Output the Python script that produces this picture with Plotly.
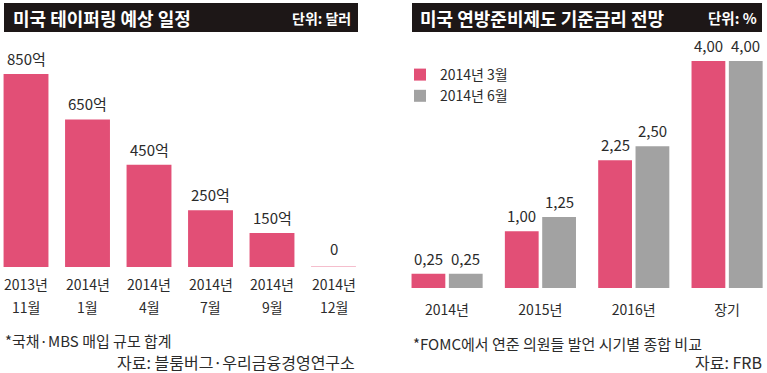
import plotly.graph_objects as go

# ---- data ----
left_years = ["2013년", "2014년", "2014년", "2014년", "2014년", "2014년"]
left_months = ["11월", "1월", "4월", "7월", "9월", "12월"]
taper_values = [850, 650, 450, 250, 150, 0]

right_categories = ["2014년", "2015년", "2016년", "장기"]
series_names = ["2014년 3월", "2014년 6월"]
rate_march = [0.25, 1.00, 2.25, 4.00]
rate_june = [0.25, 1.25, 2.50, 4.00]

W, H = 767, 373
PINK = "#e24f76"
PINK_LIGHT = "#f2a9bc"
GRAY = "#a2a2a2"
TXT = "#2b2b2b"
BAR_BG = "#1d1717"
FONT = "Noto Sans CJK KR"


def px(x):
    return x / W


def py(y):
    return (H - y) / H


fig = go.Figure()

lx = list(range(len(taper_values)))
fig.add_trace(go.Bar(
    x=lx, y=taper_values, width=0.73, marker=dict(color=PINK, line=dict(width=0)),
    xaxis="x", yaxis="y", showlegend=False, hoverinfo="skip",
))

rx = list(range(len(right_categories)))
fig.add_trace(go.Bar(
    x=rx, y=rate_march, width=0.362, offset=-0.38, name=series_names[0],
    marker=dict(color=PINK, line=dict(width=0)), xaxis="x2", yaxis="y2",
    legendgroup="a",
))
fig.add_trace(go.Bar(
    x=rx, y=rate_june, width=0.362, offset=0.02, name=series_names[1],
    marker=dict(color=GRAY, line=dict(width=0)), xaxis="x2", yaxis="y2",
    legendgroup="b",
))

annotations = []
shapes = []

# left value labels
for i, v in enumerate(taper_values):
    label = f"{v}억" if v else "0"
    annotations.append(dict(x=i, y=v, xref="x", yref="y", text=label, showarrow=False,
                            yanchor="bottom", yshift=3 if v else 6,
                            font=dict(family=FONT, size=15, color=TXT)))
    if v == 0:
        shapes.append(dict(type="line", xref="x", yref="y", x0=i - 0.365, x1=i + 0.365,
                           y0=0, y1=0, line=dict(color=PINK_LIGHT, width=1.5)))
# left category labels
for i, (yr, mo) in enumerate(zip(left_years, left_months)):
    annotations.append(dict(x=i, y=py(284), xref="x", yref="paper", text=yr, showarrow=False,
                            yanchor="middle", font=dict(family=FONT, size=14, color=TXT)))
    annotations.append(dict(x=i, y=py(307), xref="x", yref="paper", text=mo, showarrow=False,
                            yanchor="middle", font=dict(family=FONT, size=14, color=TXT)))

# right value labels
for vals, off in ((rate_march, -0.38), (rate_june, 0.02)):
    for i, v in enumerate(vals):
        annotations.append(dict(x=i + off + 0.181, y=v, xref="x2", yref="y2",
                                text=f"{v:.2f}".replace(".", ","), showarrow=False,
                                yanchor="bottom", yshift=3,
                                font=dict(family=FONT, size=15, color=TXT)))

# title bars
shapes.append(dict(type="rect", xref="paper", yref="paper", x0=px(4), x1=px(358),
                   y0=py(32), y1=py(3), fillcolor=BAR_BG, line=dict(width=0), layer="below"))
shapes.append(dict(type="rect", xref="paper", yref="paper", x0=px(412), x1=px(762),
                   y0=py(32), y1=py(3), fillcolor=BAR_BG, line=dict(width=0), layer="below"))

annotations += [
    dict(x=px(11), y=py(17.5), xref="paper", yref="paper", xanchor="left", yanchor="middle",
         text="<b>미국 테이퍼링 예상 일정</b>", showarrow=False,
         font=dict(family=FONT, size=18, color="white")),
    dict(x=px(353), y=py(17.5), xref="paper", yref="paper", xanchor="right", yanchor="middle",
         text="<b>단위: 달러</b>", showarrow=False,
         font=dict(family=FONT, size=14, color="white")),
    dict(x=px(418), y=py(17.5), xref="paper", yref="paper", xanchor="left", yanchor="middle",
         text="<b>미국 연방준비제도 기준금리 전망</b>", showarrow=False,
         font=dict(family=FONT, size=18, color="white")),
    dict(x=px(759), y=py(17.5), xref="paper", yref="paper", xanchor="right", yanchor="middle",
         text="<b>단위: %</b>", showarrow=False,
         font=dict(family=FONT, size=14.5, color="white")),
    dict(x=px(3), y=py(340), xref="paper", yref="paper", xanchor="left", yanchor="middle",
         text="*국채·MBS 매입 규모 합계", showarrow=False,
         font=dict(family=FONT, size=15, color=TXT)),
    dict(x=px(357), y=py(362), xref="paper", yref="paper", xanchor="right", yanchor="middle",
         text="자료: 블룸버그·우리금융경영연구소", showarrow=False,
         font=dict(family=FONT, size=16, color=TXT)),
    dict(x=px(411), y=py(343), xref="paper", yref="paper", xanchor="left", yanchor="middle",
         text="*FOMC에서 연준 의원들 발언 시기별 종합 비교", showarrow=False,
         font=dict(family=FONT, size=15, color=TXT)),
    dict(x=px(764), y=py(362), xref="paper", yref="paper", xanchor="right", yanchor="middle",
         text="자료: FRB", showarrow=False,
         font=dict(family=FONT, size=16, color=TXT)),
]

fig.update_layout(
    width=W, height=H, margin=dict(l=0, r=0, t=0, b=0),
    paper_bgcolor="white", plot_bgcolor="white",
    barmode="overlay",
    font=dict(family=FONT, color=TXT),
    xaxis=dict(domain=[0, px(360)], range=[-0.423, 5.431], showticklabels=False,
               showgrid=False, zeroline=False, showline=False, ticks="", fixedrange=True),
    yaxis=dict(domain=[py(267), py(74)], range=[0, 850], visible=False, fixedrange=True),
    xaxis2=dict(domain=[px(400), 1], range=[-0.5036, 3.4286], anchor="y2",
                tickvals=rx, ticktext=right_categories, ticks="", showgrid=False,
                zeroline=False, showline=False, ticklabelstandoff=12,
                tickfont=dict(family=FONT, size=14, color=TXT), fixedrange=True),
    yaxis2=dict(domain=[py(288), py(61)], range=[0, 4], anchor="x2", visible=False,
                fixedrange=True),
    legend=dict(x=px(400), y=py(59), xanchor="left", yanchor="top", bgcolor="rgba(0,0,0,0)",
                font=dict(family=FONT, size=14, color=TXT), tracegroupgap=4,
                itemwidth=30, traceorder="normal"),
    annotations=annotations, shapes=shapes,
)

fig.write_html(
    "out.html",
    config={"displayModeBar": False},
    post_script="document.body.style.margin='0';document.body.style.overflow='hidden';",
)
